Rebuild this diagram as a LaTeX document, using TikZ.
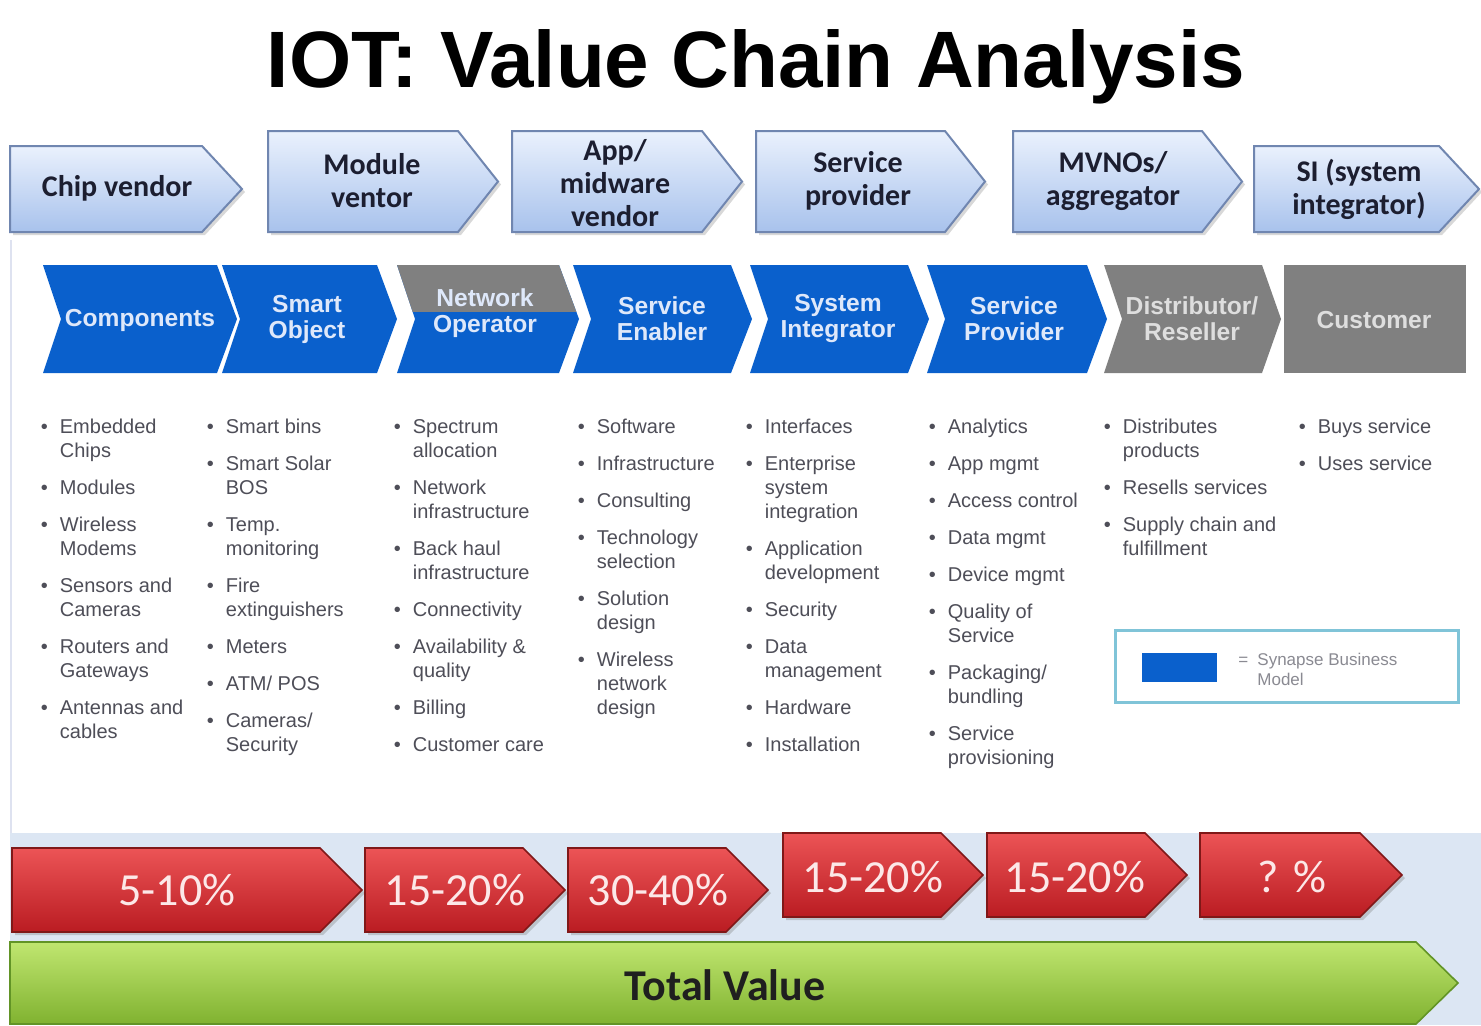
\documentclass[tikz,border=0pt]{standalone}
\usepackage{fontspec}
\setmainfont{Liberation Sans}
\newfontfamily\calfont{Carlito}
\usetikzlibrary{shadows}
\definecolor{chevblue}{RGB}{10,96,204}
\definecolor{chevgray}{RGB}{128,128,128}
\definecolor{toptop}{RGB}{234,241,253}
\definecolor{topbot}{RGB}{168,194,236}
\definecolor{topline}{RGB}{112,134,176}
\definecolor{toptext}{RGB}{28,30,48}
\definecolor{redtop}{RGB}{236,84,86}
\definecolor{redbot}{RGB}{186,28,34}
\definecolor{redline}{RGB}{128,24,24}
\definecolor{redtext}{RGB}{252,232,232}
\definecolor{greentop}{RGB}{192,230,112}
\definecolor{greenbot}{RGB}{128,178,48}
\definecolor{greenline}{RGB}{98,148,38}
\definecolor{band}{RGB}{220,230,243}
\definecolor{bultext}{RGB}{78,78,88}
\definecolor{chevtext}{RGB}{222,232,250}
\definecolor{graytext}{RGB}{222,222,222}
\definecolor{legline}{RGB}{128,196,216}
\definecolor{legtext}{RGB}{138,138,146}
\definecolor{faint}{RGB}{222,226,240}
\newcommand\penta[6]{\path[#1] (#2,#3) -- (#4,#3) -- (#5,{(#3+#6)/2}) -- (#4,#6) -- (#2,#6) -- cycle;}
\newcommand\chevshape[5]{\path[#1] (#2,265) -- (#3,265) -- (#4,319) -- (#3,373) -- (#2,373) -- ({#2+#5},319) -- cycle;}
\tikzset{
  toparr/.style={draw=topline, line width=1pt, top color=toptop, bottom color=topbot,
    drop shadow={shadow xshift=1.5pt, shadow yshift=-1.5pt, opacity=0.3}},
  redarr/.style={draw=redline, line width=0.8pt, top color=redtop, bottom color=redbot,
    drop shadow={shadow xshift=1.5pt, shadow yshift=-1.5pt, opacity=0.35}},
  greenarr/.style={draw=greenline, line width=0.8pt, top color=greentop, bottom color=greenbot},
  topt/.style={font=\calfont\bfseries\fontsize{15}{16.5}\selectfont, text=toptext, align=center, inner sep=0},
  chevt/.style={font=\bfseries\fontsize{12.3}{13}\selectfont, text=chevtext, align=center, inner sep=0},
  redt/.style={font=\calfont\fontsize{23}{25}\selectfont, text=redtext, inner sep=0},
  bul/.style={font=\fontsize{10}{12}\selectfont, text=bultext, anchor=north west, inner sep=0},
}
\begin{document}
\begin{tikzpicture}[x=0.5pt,y=-0.5pt]
\useasboundingbox (0,0) rectangle (1481,1025);
\fill[white] (0,0) rectangle (1481,1025);
\fill[band] (10,833) rectangle (1481,1025);
\draw[faint, line width=0.8pt] (11,240) -- (11,833);

\node[font=\bfseries\fontsize{40}{44}\selectfont, inner sep=0, anchor=base] (title) at (756,87) {IOT: Value Chain Analysis};

% top row
\penta{toparr}{10}{146}{202}{242}{232}
\penta{toparr}{268}{131}{458}{498}{232}
\penta{toparr}{512}{131}{702}{742}{232}
\penta{toparr}{756}{131}{945}{985}{232}
\penta{toparr}{1013}{131}{1202}{1242}{232}
\penta{toparr}{1254}{146}{1439}{1479}{232}
\node[topt] (chip) at (117,188) {Chip vendor};
\node[topt] (module) at (372,181) {Module\\ventor};
\node[topt] (app) at (615,183) {App/\\midware\\vendor};
\node[topt] (sprovider) at (858,181) {Service\\provider};
\node[topt] (mvno) at (1113,181) {MVNOs/\\aggregator};
\node[topt] (sint) at (1359,189) {SI (system\\integrator)};

% chevron row
\chevshape{fill=chevblue}{43}{217}{237}{18}
\chevshape{fill=chevblue}{222}{377}{397}{18}
\begin{scope}
\chevshape{clip}{397}{559}{579}{18}
\fill[chevblue] (390,260) rectangle (590,380);
\fill[chevgray] (390,260) rectangle (590,312);
\end{scope}
\chevshape{fill=chevblue}{573}{731}{752}{18}
\chevshape{fill=chevblue}{750}{908}{929}{18}
\chevshape{fill=chevblue}{927}{1087}{1107}{18}
\chevshape{fill=chevgray}{1104}{1262}{1281}{18}
\fill[chevgray] (1284,265) rectangle (1466,373);
\node[chevt] (comp) at (140,320) {Components};
\node[chevt] (smart) at (307,319) {Smart\\Object};
\node[chevt] (netop) at (485,313) {Network\\Operator};
\node[chevt] (senab) at (662,319) {Service\\Enabler};
\node[chevt] (sysint) at (838,319) {System\\Integrator};
\node[chevt] (sprov) at (1014,319) {Service\\Provider};
\node[chevt, text=graytext] (dist) at (1192,319) {Distributor/\\Reseller};
\node[chevt, text=graytext] (cust) at (1374,320) {Customer};

% bullet columns
\node[bul] (c1) at (40.5,416) {\begin{tabular}{@{}p{9.5pt}@{}l@{}}
•&Embedded\\ &Chips\\[6.5pt]
•&Modules\\[6.5pt]
•&Wireless\\ &Modems\\[6.5pt]
•&Sensors and\\ &Cameras\\[6.5pt]
•&Routers and\\ &Gateways\\[6.5pt]
•&Antennas and\\ &cables
\end{tabular}};
\node[bul] (c2) at (206.5,416) {\begin{tabular}{@{}p{9.5pt}@{}l@{}}
•&Smart bins\\[6.5pt]
•&Smart Solar\\ &BOS\\[6.5pt]
•&Temp.\\ &monitoring\\[6.5pt]
•&Fire\\ &extinguishers\\[6.5pt]
•&Meters\\[6.5pt]
•&ATM/ POS\\[6.5pt]
•&Cameras/\\ &Security
\end{tabular}};
\node[bul] (c3) at (393.5,416) {\begin{tabular}{@{}p{9.5pt}@{}l@{}}
•&Spectrum\\ &allocation\\[6.5pt]
•&Network\\ &infrastructure\\[6.5pt]
•&Back haul\\ &infrastructure\\[6.5pt]
•&Connectivity\\[6.5pt]
•&Availability \&\\ &quality\\[6.5pt]
•&Billing\\[6.5pt]
•&Customer care
\end{tabular}};
\node[bul] (c4) at (577.5,416) {\begin{tabular}{@{}p{9.5pt}@{}l@{}}
•&Software\\[6.5pt]
•&Infrastructure\\[6.5pt]
•&Consulting\\[6.5pt]
•&Technology\\ &selection\\[6.5pt]
•&Solution\\ &design\\[6.5pt]
•&Wireless\\ &network\\ &design
\end{tabular}};
\node[bul] (c5) at (745.5,416) {\begin{tabular}{@{}p{9.5pt}@{}l@{}}
•&Interfaces\\[6.5pt]
•&Enterprise\\ &system\\ &integration\\[6.5pt]
•&Application\\ &development\\[6.5pt]
•&Security\\[6.5pt]
•&Data\\ &management\\[6.5pt]
•&Hardware\\[6.5pt]
•&Installation
\end{tabular}};
\node[bul] (c6) at (928.5,416) {\begin{tabular}{@{}p{9.5pt}@{}l@{}}
•&Analytics\\[6.5pt]
•&App mgmt\\[6.5pt]
•&Access control\\[6.5pt]
•&Data mgmt\\[6.5pt]
•&Device mgmt\\[6.5pt]
•&Quality of\\ &Service\\[6.5pt]
•&Packaging/\\ &bundling\\[6.5pt]
•&Service\\ &provisioning
\end{tabular}};
\node[bul] (c7) at (1103.5,416) {\begin{tabular}{@{}p{9.5pt}@{}l@{}}
•&Distributes\\ &products\\[6.5pt]
•&Resells services\\[6.5pt]
•&Supply chain and\\ &fulfillment
\end{tabular}};
\node[bul] (c8) at (1298.5,416) {\begin{tabular}{@{}p{9.5pt}@{}l@{}}
•&Buys service\\[6.5pt]
•&Uses service
\end{tabular}};

% legend
\node[draw=legline, line width=1.5pt, fill=white, minimum width=171.5pt, minimum height=36pt, inner sep=0] (legend) at (1286.5,666) {};
\node[fill=chevblue, minimum width=37.5pt, minimum height=14.5pt, inner sep=0] (swatch) at (1179.5,667.5) {};
\node[font=\fontsize{8.5}{10}\selectfont, text=legtext, anchor=west, inner sep=0] (legtext) at (1238,671) {\begin{tabular}{@{}p{9.5pt}@{}l@{}}=&Synapse Business\\ &Model\end{tabular}};

% red value arrows
\penta{redarr}{12}{848}{320}{362}{932}
\penta{redarr}{365}{848}{523}{565}{932}
\penta{redarr}{568}{848}{726}{768}{932}
\penta{redarr}{783}{833}{941}{983}{917}
\penta{redarr}{987}{833}{1145}{1187}{917}
\penta{redarr}{1200}{833}{1360}{1402}{917}
\node[redt] (p1) at (177,890) {5-10\%};
\node[redt] (p2) at (455,890) {15-20\%};
\node[redt] (p3) at (658,890) {30-40\%};
\node[redt] (p4) at (873,877) {15-20\%};
\node[redt] (p5) at (1075,877) {15-20\%};
\node[redt] (p6) at (1292,877) {? \%};

% total value
\penta{greenarr}{10}{942}{1416}{1458}{1024}
\node[font=\calfont\bfseries\fontsize{22}{24}\selectfont, text=black!88, inner sep=0] (total) at (725,985) {Total Value};
\end{tikzpicture}
\end{document}
